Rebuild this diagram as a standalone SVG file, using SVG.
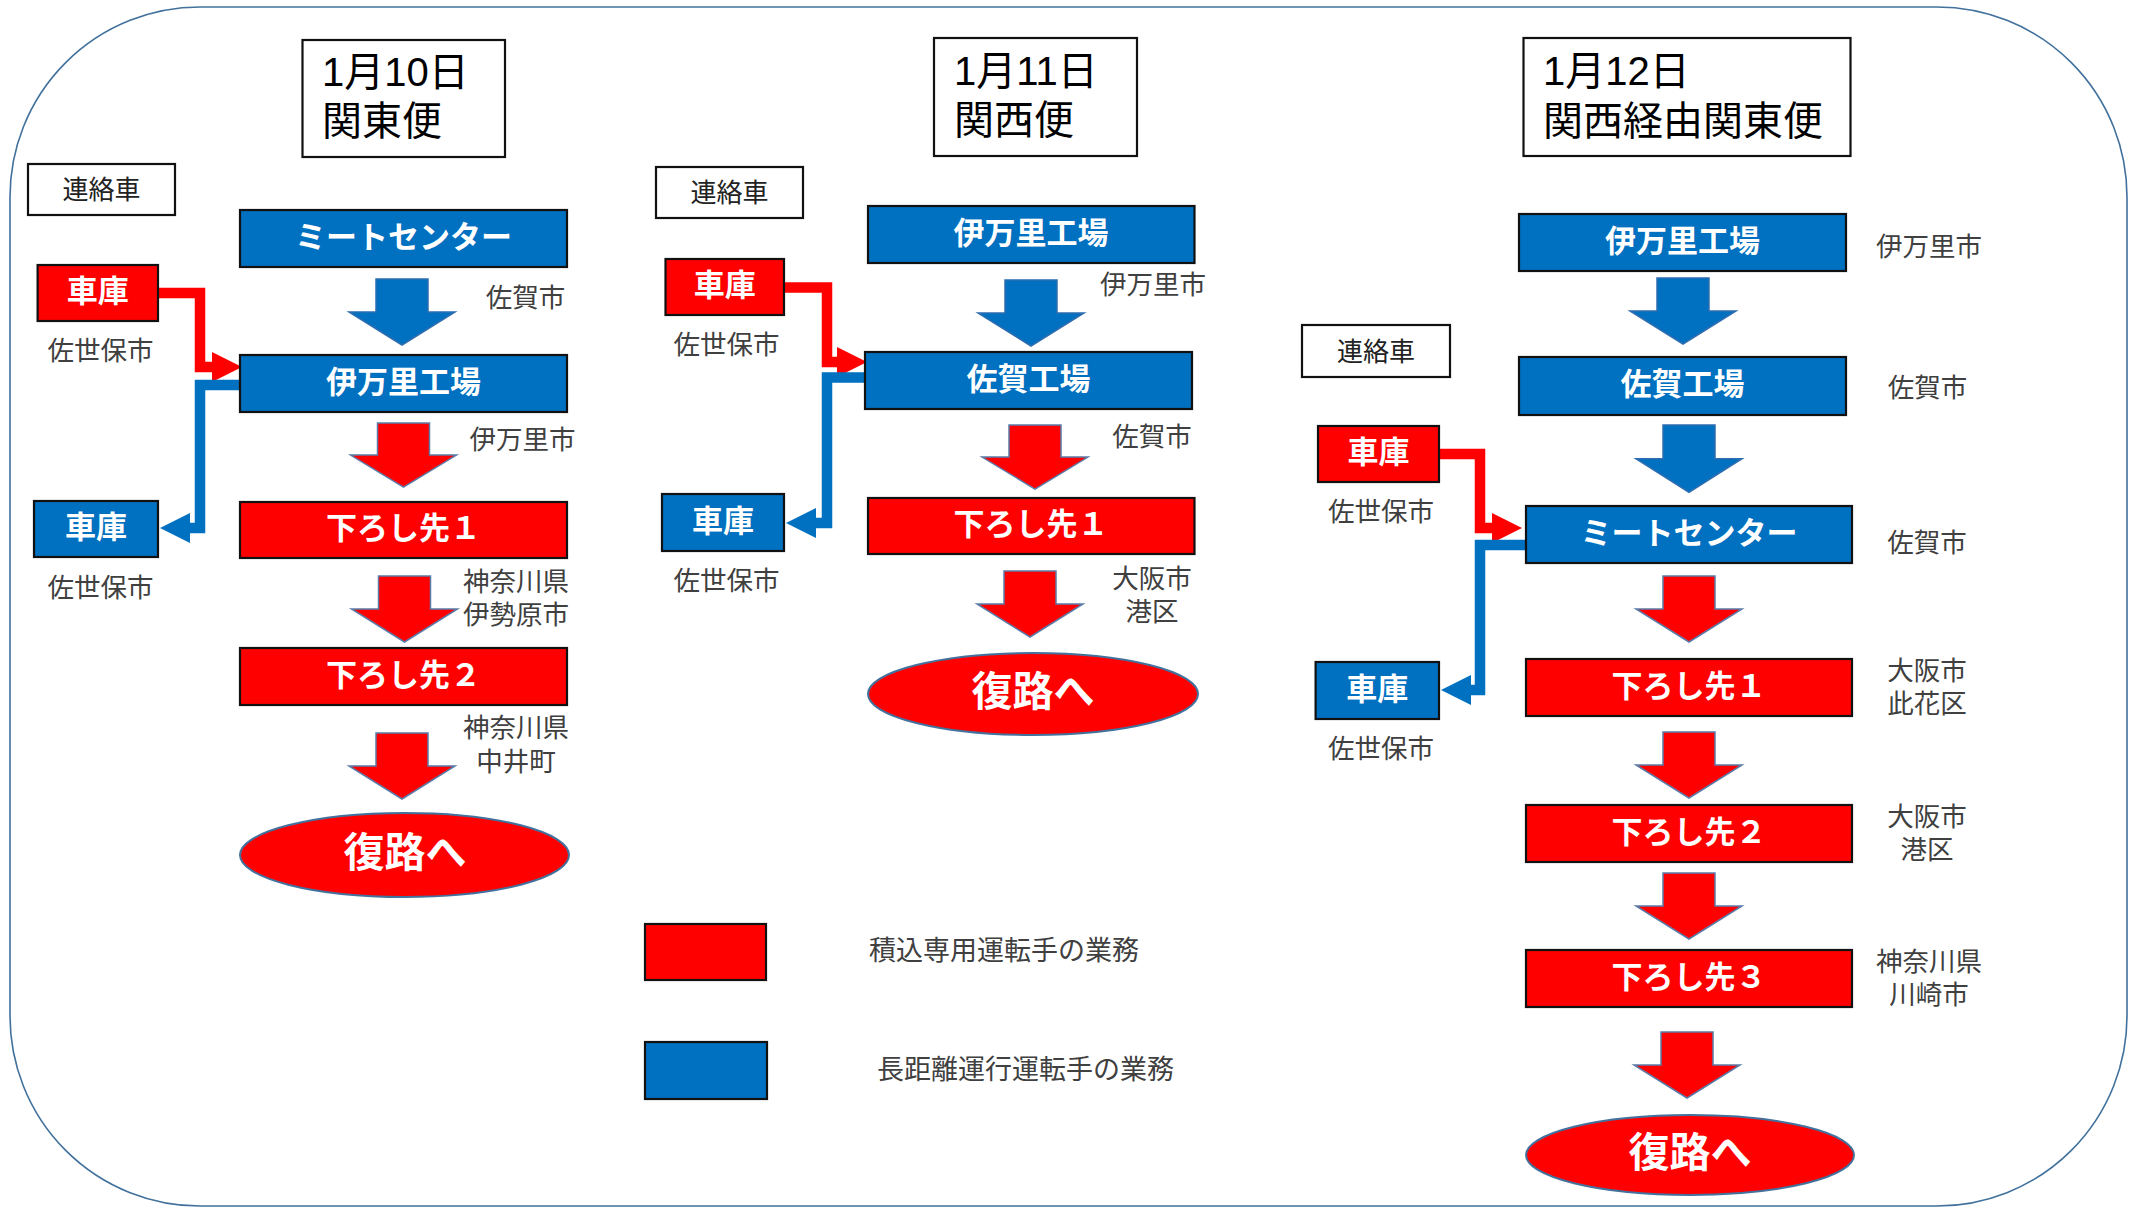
<svg xmlns="http://www.w3.org/2000/svg" xmlns:xlink="http://www.w3.org/1999/xlink" width="2138" height="1207" viewBox="0 0 2138 1207">
<style>
text{font-family:"Liberation Sans","Noto Sans CJK JP",sans-serif;}
.bx{stroke:#111;stroke-width:2.2;}
.blue{fill:#0070C0;}
.red{fill:#FF0000;}
.btxt{fill:#fff;font-weight:bold;font-size:31px;text-anchor:middle;dominant-baseline:central;transform:translateY(1.7px);}
.lbl{fill:#404040;font-size:26.5px;text-anchor:middle;dominant-baseline:central;transform:translateY(1.5px);}
.ttl{fill:#000;font-size:40px;}
.wbox{fill:#fff;stroke:#111;stroke-width:2.2;}
.wtxt{fill:#222;font-size:26px;text-anchor:middle;dominant-baseline:central;transform:translateY(1.5px);}
.ba-red{fill:#FF0000;stroke:#5B7BA8;stroke-width:1.5;}
.ba-blue{fill:#0070C0;stroke:#2E6DB0;stroke-width:1.5;}
.oval{fill:#FF0000;stroke:#41719C;stroke-width:2;}
.otxt{fill:#fff;font-weight:bold;font-size:41px;text-anchor:middle;dominant-baseline:central;transform:translateY(2.2px);}
.cr{fill:none;stroke:#FF0000;stroke-width:10.5;stroke-linejoin:miter;marker-end:url(#mr);}
.cb{fill:none;stroke:#0070C0;stroke-width:10.5;stroke-linejoin:miter;marker-end:url(#mb);}
.leg{fill:#404040;font-size:27px;dominant-baseline:central;transform:translateY(1.5px);}
</style>
<defs>
<path id="ba" d="M-26,0 H26 V33 H53 L0,66 L-53,33 H-26 Z"/>
<marker id="mr" markerUnits="userSpaceOnUse" markerWidth="31" markerHeight="31" refX="0" refY="15" orient="auto" viewBox="0 0 31 30"><path d="M0,0 L30,15 L0,30 Z" fill="#FF0000"/></marker>
<marker id="mb" markerUnits="userSpaceOnUse" markerWidth="31" markerHeight="31" refX="0" refY="15" orient="auto" viewBox="0 0 31 30"><path d="M0,0 L30,15 L0,30 Z" fill="#0070C0"/></marker>
</defs>
<rect x="0" y="0" width="2138" height="1207" fill="#fff"/>
<rect id="frame" x="10" y="7" width="2117" height="1199" rx="190" ry="190" fill="none" stroke="#41719C" stroke-width="1.6"/>

<!-- Titles -->
<g id="title1"><rect class="wbox" x="302.5" y="40" width="202.5" height="117"/><text class="ttl"><tspan x="322" y="86">1月10日</tspan><tspan x="322" y="135">関東便</tspan></text></g>
<g id="title2"><rect class="wbox" x="934" y="38" width="203" height="118"/><text class="ttl"><tspan x="954" y="85">1月11日</tspan><tspan x="954" y="134">関西便</tspan></text></g>
<g id="title3"><rect class="wbox" x="1523.5" y="38" width="327" height="118"/><text class="ttl"><tspan x="1543" y="85">1月12日</tspan><tspan x="1543" y="135">関西経由関東便</tspan></text></g>

<!-- Connectors -->
<g id="connectors">
<path class="cr" d="M158,293 H200 V367 H212"/>
<path class="cb" d="M240,385 H200 V528 H190"/>
<path class="cr" d="M784,287.5 H827 V362 H837"/>
<path class="cb" d="M865,377.5 H827 V523 H816"/>
<path class="cr" d="M1439,454 H1480 V528 H1492"/>
<path class="cb" d="M1526,545 H1480 V690 H1471"/>
<use href="#ba" class="ba-blue" transform="translate(402,279)"/>
<use href="#ba" class="ba-red" transform="translate(403.5,423) scale(1,0.97)"/>
<use href="#ba" class="ba-red" transform="translate(404.5,576)"/>
<use href="#ba" class="ba-red" transform="translate(402,733)"/>
<use href="#ba" class="ba-blue" transform="translate(1031,280)"/>
<use href="#ba" class="ba-red" transform="translate(1035,425) scale(1,0.97)"/>
<use href="#ba" class="ba-red" transform="translate(1030,571)"/>
<use href="#ba" class="ba-blue" transform="translate(1683,278)"/>
<use href="#ba" class="ba-blue" transform="translate(1689,425) scale(1,1.02)"/>
<use href="#ba" class="ba-red" transform="translate(1689,576)"/>
<use href="#ba" class="ba-red" transform="translate(1689,732)"/>
<use href="#ba" class="ba-red" transform="translate(1689,873)"/>
<use href="#ba" class="ba-red" transform="translate(1687,1032)"/>
</g>

<!-- Panel 1 -->
<g id="p1-renraku"><rect class="wbox" x="28" y="164" width="147" height="51"/><text class="wtxt" x="101.5" y="188.5">連絡車</text></g>
<g id="p1-meat"><rect class="bx blue" x="240" y="210" width="327" height="57"/><text class="btxt" x="403.5" y="235.5">ミートセンター</text></g>
<g id="p1-imari"><rect class="bx blue" x="240" y="355" width="327" height="57"/><text class="btxt" x="403.5" y="380.5">伊万里工場</text></g>
<g id="p1-oroshi1"><rect class="bx red" x="240" y="502" width="327" height="56"/><text class="btxt" x="403.5" y="527">下ろし先１</text></g>
<g id="p1-oroshi2"><rect class="bx red" x="240" y="648" width="327" height="57"/><text class="btxt" x="403.5" y="673.5">下ろし先２</text></g>
<g id="p1-garage-red"><rect class="bx red" x="37.6" y="265" width="120.4" height="56"/><text class="btxt" x="97.8" y="290">車庫</text></g>
<g id="p1-garage-blue"><rect class="bx blue" x="34" y="501" width="124" height="56"/><text class="btxt" x="96" y="526">車庫</text></g>
<g id="p1-back"><ellipse class="oval" cx="404.5" cy="855" rx="164.5" ry="42"/><text class="otxt" x="405" y="851">復路へ</text></g>
<g id="p1-labels">
<text class="lbl" x="525.5" y="296">佐賀市</text>
<text class="lbl" x="522.5" y="438">伊万里市</text>
<text class="lbl" x="100.5" y="349">佐世保市</text>
<text class="lbl" x="100.5" y="586">佐世保市</text>
<text class="lbl"><tspan x="516" y="580">神奈川県</tspan><tspan x="516" y="613">伊勢原市</tspan></text>
<text class="lbl"><tspan x="516" y="726">神奈川県</tspan><tspan x="516" y="760">中井町</tspan></text>
</g>

<!-- Panel 2 -->
<g id="p2-renraku"><rect class="wbox" x="656" y="167" width="147" height="51"/><text class="wtxt" x="729.5" y="191.5">連絡車</text></g>
<g id="p2-imari"><rect class="bx blue" x="868" y="206" width="326.5" height="57"/><text class="btxt" x="1031" y="231.5">伊万里工場</text></g>
<g id="p2-saga"><rect class="bx blue" x="865" y="352" width="327" height="57"/><text class="btxt" x="1028.5" y="377.5">佐賀工場</text></g>
<g id="p2-oroshi1"><rect class="bx red" x="868" y="498" width="326.5" height="56"/><text class="btxt" x="1031" y="523">下ろし先１</text></g>
<g id="p2-garage-red"><rect class="bx red" x="665.5" y="259" width="118.5" height="56"/><text class="btxt" x="724.8" y="284">車庫</text></g>
<g id="p2-garage-blue"><rect class="bx blue" x="662" y="494" width="122" height="57"/><text class="btxt" x="723" y="519.5">車庫</text></g>
<g id="p2-back"><ellipse class="oval" cx="1033" cy="694" rx="165" ry="41"/><text class="otxt" x="1033" y="690">復路へ</text></g>
<g id="p2-labels">
<text class="lbl" x="1153" y="283">伊万里市</text>
<text class="lbl" x="726.5" y="343">佐世保市</text>
<text class="lbl" x="1152" y="435">佐賀市</text>
<text class="lbl" x="726.5" y="579">佐世保市</text>
<text class="lbl"><tspan x="1152" y="577">大阪市</tspan><tspan x="1152" y="610">港区</tspan></text>
</g>

<!-- Panel 3 -->
<g id="p3-renraku"><rect class="wbox" x="1302" y="325" width="148" height="52"/><text class="wtxt" x="1376" y="350">連絡車</text></g>
<g id="p3-imari"><rect class="bx blue" x="1519" y="214" width="327" height="57"/><text class="btxt" x="1682.5" y="239.5">伊万里工場</text></g>
<g id="p3-saga"><rect class="bx blue" x="1519" y="357" width="327" height="58"/><text class="btxt" x="1682.5" y="383">佐賀工場</text></g>
<g id="p3-meat"><rect class="bx blue" x="1526" y="506" width="326" height="57"/><text class="btxt" x="1689" y="531.5">ミートセンター</text></g>
<g id="p3-oroshi1"><rect class="bx red" x="1526" y="659" width="326" height="57"/><text class="btxt" x="1689" y="684.5">下ろし先１</text></g>
<g id="p3-oroshi2"><rect class="bx red" x="1526" y="805" width="326" height="57"/><text class="btxt" x="1689" y="830.5">下ろし先２</text></g>
<g id="p3-oroshi3"><rect class="bx red" x="1526" y="950" width="326" height="57"/><text class="btxt" x="1689" y="975.5">下ろし先３</text></g>
<g id="p3-garage-red"><rect class="bx red" x="1318" y="426" width="121" height="56"/><text class="btxt" x="1378.5" y="451">車庫</text></g>
<g id="p3-garage-blue"><rect class="bx blue" x="1315.6" y="662" width="123.4" height="57"/><text class="btxt" x="1377.3" y="687.5">車庫</text></g>
<g id="p3-back"><ellipse class="oval" cx="1690" cy="1155" rx="164" ry="40"/><text class="otxt" x="1690" y="1151">復路へ</text></g>
<g id="p3-labels">
<text class="lbl" x="1929" y="245">伊万里市</text>
<text class="lbl" x="1927.5" y="386.5">佐賀市</text>
<text class="lbl" x="1381" y="510">佐世保市</text>
<text class="lbl" x="1927" y="541">佐賀市</text>
<text class="lbl"><tspan x="1927" y="669">大阪市</tspan><tspan x="1927" y="702">此花区</tspan></text>
<text class="lbl" x="1381" y="747">佐世保市</text>
<text class="lbl"><tspan x="1927" y="815">大阪市</tspan><tspan x="1927" y="848">港区</tspan></text>
<text class="lbl"><tspan x="1929" y="960">神奈川県</tspan><tspan x="1929" y="993">川崎市</tspan></text>
</g>

<!-- Legend -->
<g id="legend-red"><rect class="bx red" x="645" y="924" width="121" height="56"/><text class="leg" x="869" y="949">積込専用運転手の業務</text></g>
<g id="legend-blue"><rect class="bx blue" x="645" y="1042" width="122" height="57"/><text class="leg" x="877" y="1068">長距離運行運転手の業務</text></g>
</svg>
